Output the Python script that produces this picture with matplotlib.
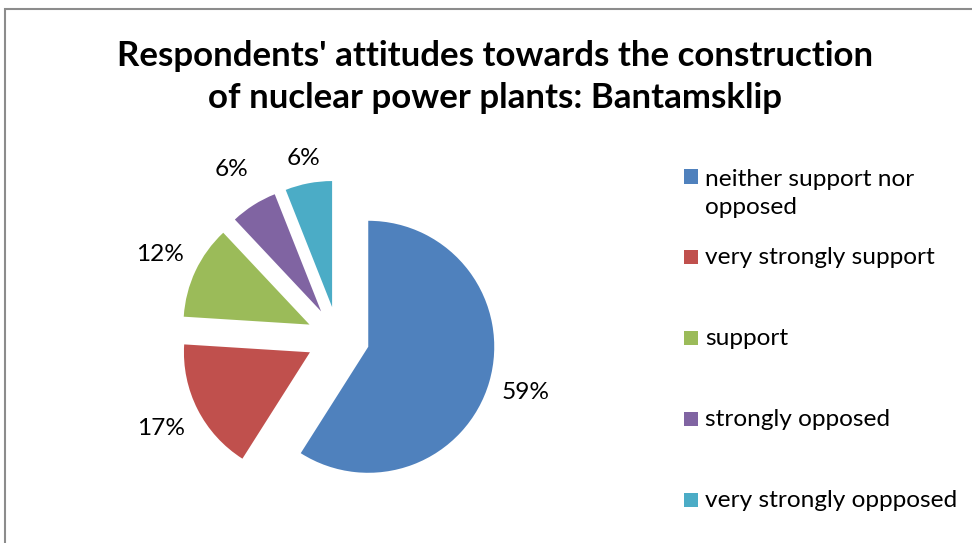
import matplotlib
matplotlib.use("Agg")
import math
import matplotlib.pyplot as plt
from matplotlib.patches import Rectangle

categories = ["neither support nor\nopposed", "very strongly support", "support",
              "strongly opposed", "very strongly oppposed"]
values = [59, 17, 12, 6, 6]
colors = ["#4F81BD", "#C0504D", "#9BBB59", "#8064A2", "#4BACC6"]
title = "Respondents' attitudes towards the construction\nof nuclear power plants: Bantamsklip"

W, H = 972, 543
fig = plt.figure(figsize=(W / 100, H / 100), dpi=100)
fig.patch.set_facecolor("white")

def fx(x):
    return x / W

def fy(y):
    return 1 - y / H

FONT = "Lato"

# pie axes: 1 data unit = 126 px, pie centre at pixel (338, 338)
R = 126.0
cx, cy = 338.0, 338.0
ax = fig.add_axes([0, 0, 1, 1], zorder=0)
wedges, texts, autotexts = ax.pie(
    values, colors=colors, startangle=90, counterclock=False, radius=1.0,
    explode=[0.25] * len(values), autopct="%1.0f%%", pctdistance=1.31,
    wedgeprops=dict(linewidth=0),
    textprops=dict(fontsize=17.6, family=FONT, color="#000000"))
ax.set_xlim(-cx / R, (W - cx) / R)
ax.set_ylim(-(H - cy) / R, cy / R)
ax.set_aspect("equal")
ax.axis("off")

# per-slice label distance (Excel "best fit" placement)
label_dist = [1.30, 1.33, 1.31, 1.33, 1.20]
for w, t, d in zip(wedges, autotexts, label_dist):
    thm = math.radians(0.5 * (w.theta1 + w.theta2))
    x0, y0 = w.center
    t.set_position((x0 + d * w.r * math.cos(thm), y0 + d * w.r * math.sin(thm)))
    t.set_ha("center")
    t.set_va("center")

# border
fig.add_artist(Rectangle((fx(5), fy(560)), fx(1000), 551 / H, transform=fig.transFigure,
                         fill=False, edgecolor="#8C8C8C", linewidth=1.5, zorder=5))

# title (baseline of the last line)
fig.text(fx(495), fy(108), title, ha="center", va="baseline", fontsize=25.1,
         fontweight="bold", family=FONT, linespacing=1.38, color="#000000", zorder=5)

# legend
ly0, dy, line_px = 176.5, 80.8, 30
for i, (lab, col) in enumerate(zip(categories, colors)):
    yc = ly0 + i * dy
    nlines = lab.count("\n")
    fig.add_artist(Rectangle((fx(684), fy(yc + 7)), 14 / W, 14 / H,
                             transform=fig.transFigure, facecolor=col, edgecolor="none",
                             zorder=5))
    fig.text(fx(705), fy(yc + 7 + nlines * line_px), lab, ha="left", va="baseline",
             fontsize=17.6, family=FONT, linespacing=1.41, color="#000000", zorder=5)

fig.savefig("out.png", dpi=100, facecolor="white")
